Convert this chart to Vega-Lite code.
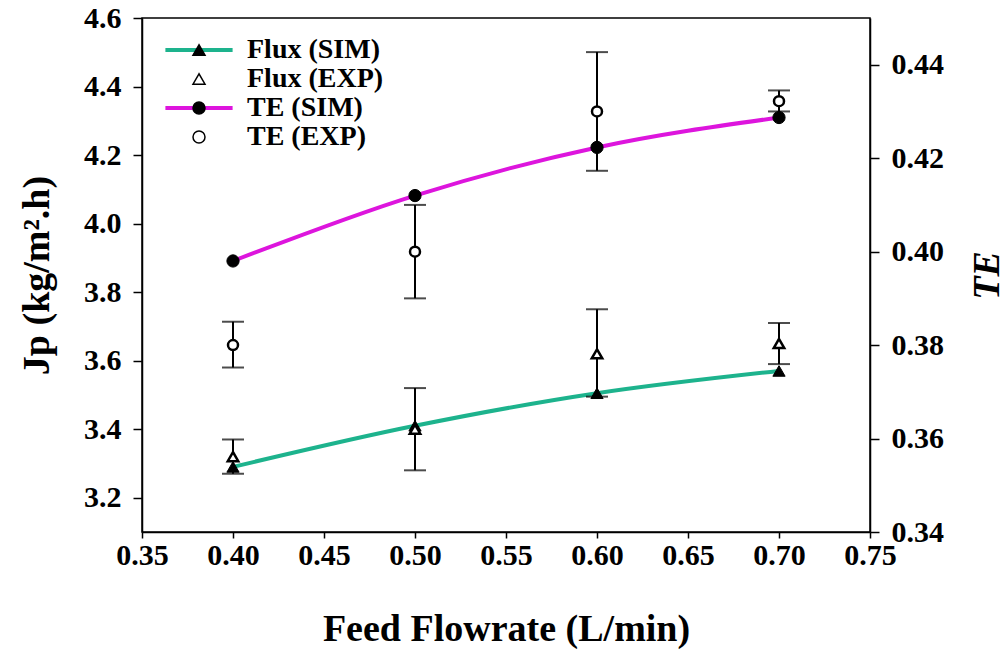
{
  "$schema": "https://vega.github.io/schema/vega-lite/v6.json",
  "width": 728,
  "height": 514,
  "autosize": {"type": "none"},
  "padding": {"left": 142, "top": 18, "right": 138, "bottom": 122},
  "config": {
    "view": {"stroke": "black", "strokeWidth": 1.5},
    "font": "Liberation Serif",
    "axis": {
      "labelFont": "Liberation Serif", "labelFontWeight": "bold", "labelFontSize": 30, "labelColor": "black",
      "titleFont": "Liberation Serif", "titleFontWeight": "bold", "titleFontSize": 38, "titleColor": "black",
      "domainColor": "black", "domainWidth": 1.5, "tickColor": "black", "tickWidth": 1.5, "tickSize": 9,
      "grid": false, "labelFlush": false, "labelOverlap": false, "labelBound": false, "labelPadding": 12
    },
    "legend": {
      "labelFont": "Liberation Serif", "labelFontSize": 28, "labelFontWeight": "bold", "labelColor": "black",
      "symbolSize": 144, "rowPadding": 1, "labelOffset": 34, "padding": 0, "labelLimit": 300
    }
  },
  "data": {
    "values": [
      {"flowrate": 0.4, "variable": "Flux", "type": "SIM", "series": "Flux (SIM)", "key": "Flux SIM", "value": 3.29},
      {"flowrate": 0.5, "variable": "Flux", "type": "SIM", "series": "Flux (SIM)", "key": "Flux SIM", "value": 3.41},
      {"flowrate": 0.6, "variable": "Flux", "type": "SIM", "series": "Flux (SIM)", "key": "Flux SIM", "value": 3.505},
      {"flowrate": 0.7, "variable": "Flux", "type": "SIM", "series": "Flux (SIM)", "key": "Flux SIM", "value": 3.57},
      {"flowrate": 0.4, "variable": "Flux", "type": "EXP", "series": "Flux (EXP)", "key": "Flux EXP", "value": 3.32, "lo": 3.27, "hi": 3.37},
      {"flowrate": 0.5, "variable": "Flux", "type": "EXP", "series": "Flux (EXP)", "key": "Flux EXP", "value": 3.40, "lo": 3.28, "hi": 3.52},
      {"flowrate": 0.6, "variable": "Flux", "type": "EXP", "series": "Flux (EXP)", "key": "Flux EXP", "value": 3.62, "lo": 3.495, "hi": 3.75},
      {"flowrate": 0.7, "variable": "Flux", "type": "EXP", "series": "Flux (EXP)", "key": "Flux EXP", "value": 3.65, "lo": 3.59, "hi": 3.71},
      {"flowrate": 0.4, "variable": "TE", "type": "SIM", "series": "TE (SIM)", "key": "TE SIM", "value": 0.398},
      {"flowrate": 0.5, "variable": "TE", "type": "SIM", "series": "TE (SIM)", "key": "TE SIM", "value": 0.412},
      {"flowrate": 0.6, "variable": "TE", "type": "SIM", "series": "TE (SIM)", "key": "TE SIM", "value": 0.4223},
      {"flowrate": 0.7, "variable": "TE", "type": "SIM", "series": "TE (SIM)", "key": "TE SIM", "value": 0.4287},
      {"flowrate": 0.4, "variable": "TE", "type": "EXP", "series": "TE (EXP)", "key": "TE EXP", "value": 0.380, "lo": 0.3752, "hi": 0.385},
      {"flowrate": 0.5, "variable": "TE", "type": "EXP", "series": "TE (EXP)", "key": "TE EXP", "value": 0.400, "lo": 0.390, "hi": 0.410},
      {"flowrate": 0.6, "variable": "TE", "type": "EXP", "series": "TE (EXP)", "key": "TE EXP", "value": 0.430, "lo": 0.4173, "hi": 0.4427},
      {"flowrate": 0.7, "variable": "TE", "type": "EXP", "series": "TE (EXP)", "key": "TE EXP", "value": 0.4322, "lo": 0.4300, "hi": 0.4345}
    ]
  },
  "encoding": {
    "x": {
      "field": "flowrate", "type": "quantitative",
      "scale": {"domain": [0.35, 0.75], "nice": false, "zero": false},
      "axis": {"values": [0.35, 0.4, 0.45, 0.5, 0.55, 0.6, 0.65, 0.7, 0.75], "format": ".2f", "title": "Feed Flowrate (L/min)", "tickSize": 6, "labelPadding": 2, "titlePadding": 40}
    }
  },
  "layer": [
    {
      "transform": [{"filter": "datum.variable === 'Flux'"}],
      "layer": [
        {
          "transform": [{"filter": "datum.type === 'SIM'"}],
          "mark": {"type": "line", "strokeWidth": 4, "interpolate": "monotone"},
          "encoding": {
            "y": {"field": "value", "type": "quantitative", "title": "Jp (kg/m².h)", "scale": {"domain": [3.1, 4.6], "nice": false, "zero": false}, "axis": {"values": [3.2, 3.4, 3.6, 3.8, 4.0, 4.2, 4.4, 4.6], "format": ".1f", "titlePadding": 27}},
            "color": {
              "field": "key", "type": "nominal",
              "scale": {"domain": ["Flux SIM", "Flux EXP", "TE SIM", "TE EXP"], "range": ["#1db38d", "transparent", "#dd15dd", "transparent"]},
              "legend": {"orient": "none", "legendX": 43, "legendY": 18, "title": null, "symbolType": "M-5.6,0L5.6,0", "symbolStrokeWidth": 4, "labelExpr": "' '", "zindex": 0}
            }
          }
        },
        {
          "transform": [{"filter": "datum.type === 'EXP'"}],
          "mark": {"type": "errorbar", "ticks": true, "size": 22, "thickness": 2, "color": "black"},
          "encoding": {
            "y": {"field": "lo", "type": "quantitative", "title": "Jp (kg/m².h)"},
            "y2": {"field": "hi"}
          }
        },
        {
          "transform": [{"filter": "datum.type === 'SIM'"}],
          "mark": {"type": "point", "size": 150, "stroke": "black", "strokeWidth": 1, "opacity": 1},
          "encoding": {
            "y": {"field": "value", "type": "quantitative", "title": "Jp (kg/m².h)"},
            "shape": {"field": "series", "type": "nominal", "scale": {"domain": ["Flux (SIM)", "Flux (EXP)", "TE (SIM)", "TE (EXP)"], "range": ["triangle-up", "triangle-up", "circle", "circle"]}, "legend": {"orient": "none", "legendX": 43, "legendY": 18, "title": null, "zindex": 1, "encode": {"symbols": {"update": {"stroke": {"value": "black"}, "strokeWidth": {"value": 2.5}}}}}},
            "fill": {"field": "series", "type": "nominal", "scale": {"domain": ["Flux (SIM)", "Flux (EXP)", "TE (SIM)", "TE (EXP)"], "range": ["black", "white", "black", "white"]}, "legend": {"orient": "none", "legendX": 43, "legendY": 18, "title": null, "zindex": 1, "encode": {"symbols": {"update": {"stroke": {"value": "black"}, "strokeWidth": {"value": 2.5}}}}}}
          }
        },
        {
          "transform": [{"filter": "datum.type === 'EXP'"}],
          "mark": {"type": "point", "size": 110, "stroke": "black", "strokeWidth": 2.5, "opacity": 1},
          "encoding": {
            "y": {"field": "value", "type": "quantitative", "title": "Jp (kg/m².h)"},
            "shape": {"field": "series", "type": "nominal"},
            "fill": {"field": "series", "type": "nominal"}
          }
        }
      ]
    },
    {
      "transform": [{"filter": "datum.variable === 'TE'"}],
      "layer": [
        {
          "transform": [{"filter": "datum.type === 'SIM'"}],
          "mark": {"type": "line", "strokeWidth": 4, "interpolate": "monotone"},
          "encoding": {
            "y": {"field": "value", "type": "quantitative", "title": "TE", "scale": {"domain": [0.34, 0.45], "nice": false, "zero": false}, "axis": {"orient": "right", "values": [0.34, 0.36, 0.38, 0.40, 0.42, 0.44], "format": ".2f", "titleFontStyle": "italic", "titleAngle": 270, "titlePadding": 63}},
            "color": {"field": "key", "type": "nominal"}
          }
        },
        {
          "transform": [{"filter": "datum.type === 'EXP'"}],
          "mark": {"type": "errorbar", "ticks": true, "size": 22, "thickness": 2, "color": "black"},
          "encoding": {
            "y": {"field": "lo", "type": "quantitative", "title": "TE"},
            "y2": {"field": "hi"}
          }
        },
        {
          "transform": [{"filter": "datum.type === 'SIM'"}],
          "mark": {"type": "point", "size": 150, "stroke": "black", "strokeWidth": 1, "opacity": 1},
          "encoding": {
            "y": {"field": "value", "type": "quantitative", "title": "TE"},
            "shape": {"field": "series", "type": "nominal"},
            "fill": {"field": "series", "type": "nominal"}
          }
        },
        {
          "transform": [{"filter": "datum.type === 'EXP'"}],
          "mark": {"type": "point", "size": 100, "stroke": "black", "strokeWidth": 2.5, "opacity": 1},
          "encoding": {
            "y": {"field": "value", "type": "quantitative", "title": "TE"},
            "shape": {"field": "series", "type": "nominal"},
            "fill": {"field": "series", "type": "nominal"}
          }
        }
      ]
    }
  ],
  "resolve": {"scale": {"y": "independent"}}
}
